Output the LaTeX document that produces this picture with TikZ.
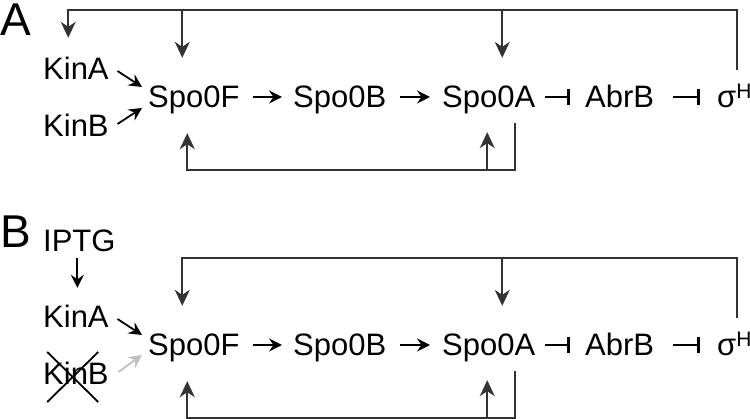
\documentclass[tikz,border=0pt]{standalone}
\usepackage{fontspec}
\setmainfont{Liberation Sans}
\usetikzlibrary{arrows.meta,calc}
\begin{document}
\begin{tikzpicture}[x=1pt,y=-1pt,
  lbl/.style={anchor=base west, inner sep=0pt, font=\fontsize{31}{31}\selectfont, text height=22pt, text depth=0pt},
  panel/.style={anchor=base west, inner sep=0pt, font=\fontsize{46}{46}\selectfont},
  ptr/.style={line width=1.8pt, -{Stealth[length=13pt,width=13pt,inset=4.5pt]}},
  grayptr/.style={ptr, draw=black!25},
  inh/.style={line width=1.8pt, -{Bar[width=16pt,line width=3pt]}},
  fbl/.style={line width=1.6pt, draw=black!80},
  fb/.style={fbl, -{Stealth[length=16pt,width=15pt,inset=5pt]}},
  crossline/.style={line width=1.8pt, draw=black}
]
\useasboundingbox (0,0) rectangle (750,419);

% ---------- Panel A ----------
\node[panel] (lA) at (0,36) {A};
\node[lbl] (KinA) at (43,80) {KinA};
\node[lbl] (KinB) at (43,137) {KinB};
\node[lbl] (Spo0F) at (148,108) {Spo0F};
\node[lbl] (Spo0B) at (293,108) {Spo0B};
\node[lbl] (Spo0A) at (442,108) {Spo0A};
\node[lbl] (AbrB) at (585,108) {AbrB};
\node[lbl] (sig) at (717,108) {σ\raisebox{9pt}{\fontsize{21}{21}\selectfont H}};

\draw[ptr] ($(KinA.east)+(8.6,2)$) -- ($(Spo0F.west)+(-6,-10)$);
\draw[ptr] ($(KinB.east)+(8.6,-2)$) -- ($(Spo0F.west)+(-6,11)$);
\draw[ptr] ($(Spo0F.east)+(13,0)$) -- ($(Spo0B.west)+(-11,0)$);
\draw[ptr] ($(Spo0B.east)+(14,0)$) -- ($(Spo0A.west)+(-12,0)$);
\draw[inh] ($(Spo0A.east)+(10,0)$) -- ($(AbrB.west)+(-15,0)$);
\draw[inh] ($(AbrB.east)+(19,0)$) -- ($(sig.west)+(-17,0)$);

\draw[fb] ($(sig.north)+(2.6,-16)$) |- ($(KinA.north)+(-7.7,-48)$) -- ($(KinA.north)+(-7.7,-20)$);
\draw[fb] ($(Spo0F.north)+(-11.6,-76)$) -- ($(Spo0F.north)+(-11.6,-28)$);
\draw[fb] ($(Spo0A.north)+(13.5,-76)$) -- ($(Spo0A.north)+(13.5,-28)$);
\draw[fb] ($(Spo0A.south)+(26.5,15)$) |- ($(Spo0F.south)+(-6.6,62)$) -- ($(Spo0F.south)+(-6.6,25)$);
\draw[fb] ($(Spo0A.south)+(-1.5,62)$) -- ($(Spo0A.south)+(-1.5,24)$);

% ---------- Panel B ----------
\node[panel] (lB) at (0,248) {B};
\node[lbl] (IPTG) at (43,252) {IPTG};
\node[lbl] (KinAb) at (43,328) {KinA};
\node[lbl] (KinBb) at (43,385) {KinB};
\node[lbl] (Spo0Fb) at (148,356) {Spo0F};
\node[lbl] (Spo0Bb) at (293,356) {Spo0B};
\node[lbl] (Spo0Ab) at (442,356) {Spo0A};
\node[lbl] (AbrBb) at (585,356) {AbrB};
\node[lbl] (sigb) at (717,356) {σ\raisebox{9pt}{\fontsize{21}{21}\selectfont H}};

\coordinate (ipt) at ($(IPTG.south)+(-2,6)$);
\coordinate (kat) at ($(KinAb.north)+(0,-18)$);
\draw[ptr] (ipt) -- (ipt |- kat);

\draw[ptr] ($(KinAb.east)+(8.6,2)$) -- ($(Spo0Fb.west)+(-6,-10)$);
\draw[grayptr] ($(KinBb.east)+(9.6,-2)$) -- ($(Spo0Fb.west)+(-6,10)$);
\draw[crossline] ($(KinBb.center)+(-28.7,-22)$) -- ($(KinBb.center)+(22.3,28)$);
\draw[crossline] ($(KinBb.center)+(22.3,-22)$) -- ($(KinBb.center)+(-28.7,28)$);
\draw[ptr] ($(Spo0Fb.east)+(13,0)$) -- ($(Spo0Bb.west)+(-11,0)$);
\draw[ptr] ($(Spo0Bb.east)+(14,0)$) -- ($(Spo0Ab.west)+(-12,0)$);
\draw[inh] ($(Spo0Ab.east)+(10,0)$) -- ($(AbrBb.west)+(-15,0)$);
\draw[inh] ($(AbrBb.east)+(19,0)$) -- ($(sigb.west)+(-17,0)$);

\draw[fb] ($(sigb.north)+(2.6,-16)$) |- ($(Spo0Fb.north)+(-11.6,-76)$) -- ($(Spo0Fb.north)+(-11.6,-28)$);
\draw[fb] ($(Spo0Ab.north)+(13.5,-76)$) -- ($(Spo0Ab.north)+(13.5,-28)$);
\draw[fb] ($(Spo0Ab.south)+(26.5,15)$) |- ($(Spo0Fb.south)+(-6.6,62)$) -- ($(Spo0Fb.south)+(-6.6,25)$);
\draw[fb] ($(Spo0Ab.south)+(-1.5,62)$) -- ($(Spo0Ab.south)+(-1.5,24)$);
\end{tikzpicture}
\end{document}
